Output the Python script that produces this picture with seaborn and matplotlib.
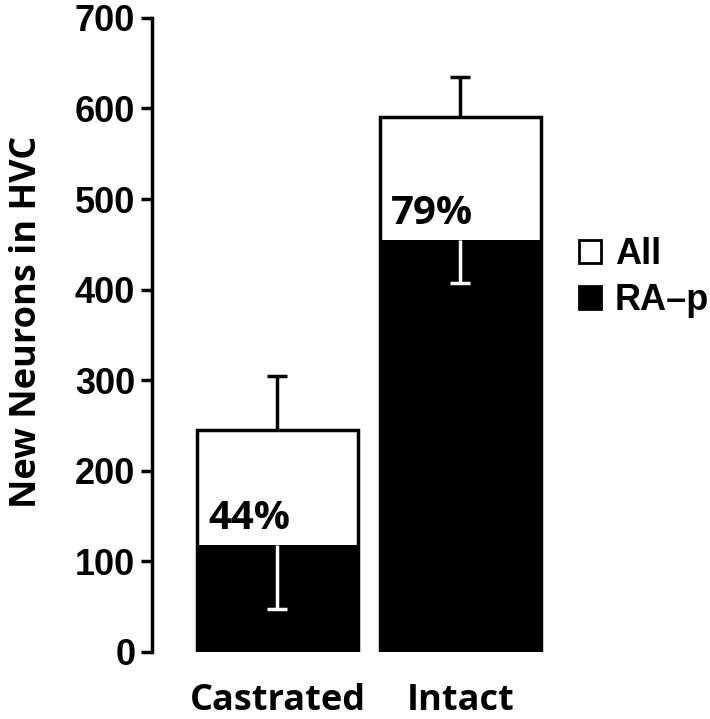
import numpy as np
import pandas as pd
import matplotlib
matplotlib.use("Agg")
import matplotlib.pyplot as plt
import seaborn as sns

# ==============================
# data
# ==============================
groups = ["Castrated", "Intact"]
all_mean = [245, 590]
all_err = [60, 45]        # upward only
rap_mean = [118, 455]
rap_err = [71, 48]        # downward only
pct_labels = ["44%", "79%"]
yticks = [0, 100, 200, 300, 400, 500, 600, 700]

df = pd.DataFrame({"group": groups, "all": all_mean, "rap": rap_mean})

sns.set_style("white")
plt.rcParams["font.family"] = ["Liberation Sans", "DejaVu Sans"]
plt.rcParams["text.color"] = "black"
plt.rcParams["axes.labelcolor"] = "black"
plt.rcParams["xtick.color"] = "black"
plt.rcParams["ytick.color"] = "black"

fig = plt.figure(figsize=(7.10, 7.19), dpi=100)
ax = fig.add_axes([0.214, 0.0932, 0.5746, 0.882])

# --- bars ---
sns.barplot(data=df, x="group", y="all", color="white", edgecolor="black",
            linewidth=2.5, width=0.88, errorbar=None, label="All", ax=ax)
sns.barplot(data=df, x="group", y="rap", color="black", edgecolor="black",
            linewidth=0, width=0.88, errorbar=None, label="RA\u2013p", ax=ax)

# one-sided error bars, cap only at the far end
xpos = np.arange(len(groups))
eb_all = ax.errorbar(xpos, all_mean, yerr=[np.zeros(len(groups)), all_err], fmt="none",
                     ecolor="black", elinewidth=2.5, capsize=7, capthick=2.5, zorder=5)
eb_all[1][0].remove()
eb_rap = ax.errorbar(xpos, rap_mean, yerr=[rap_err, np.zeros(len(groups))], fmt="none",
                     ecolor="white", elinewidth=2.5, capsize=7, capthick=2.5, zorder=5)
eb_rap[1][1].remove()

# --- percentage labels ---
for i, (v, t) in enumerate(zip(rap_mean, pct_labels)):
    ax.annotate(t, xy=(i - 0.44, v), xytext=(8, 5), textcoords="offset points",
                ha="left", va="bottom", fontsize=29, fontweight="bold", color="black",
                family=["Open Sans", "DejaVu Sans"])

# --- axes styling ---
ax.set_xlim(-0.686, 1.544)
ax.set_ylim(0, 700)
ax.set_yticks(yticks)
sns.despine(ax=ax, bottom=True)
ax.spines["left"].set_linewidth(2.5)
ax.spines["left"].set_color("black")
ax.tick_params(axis="y", direction="out", length=8, width=2.5, pad=4,
               left=True, labelsize=26, color="black", labelcolor="black")
for lbl in ax.get_yticklabels():
    lbl.set_fontweight("bold")
ax.tick_params(axis="x", length=0, pad=22, labelcolor="black")
for lbl in ax.get_xticklabels():
    lbl.set_fontsize(26)
    lbl.set_fontweight("bold")
    lbl.set_family(["Open Sans", "DejaVu Sans"])
ax.set_xlabel("")
ax.set_ylabel("New Neurons in HVC", fontsize=26, fontweight="bold", color="black",
              family=["Open Sans", "DejaVu Sans"])
ax.yaxis.set_label_coords(-0.262, 0.52)

leg = ax.legend(loc="upper left", bbox_to_anchor=(0.795, 0.69), bbox_transform=fig.transFigure,
                frameon=False, fontsize=26, handlelength=0.6, handleheight=0.6,
                handletextpad=0.4, labelspacing=0.3, borderaxespad=0)
for t in leg.get_texts():
    t.set_fontweight("bold")
    t.set_color("black")
for h in leg.legend_handles:
    h.set_edgecolor("black")
    h.set_linewidth(2)

fig.savefig("out.png", dpi=100)
